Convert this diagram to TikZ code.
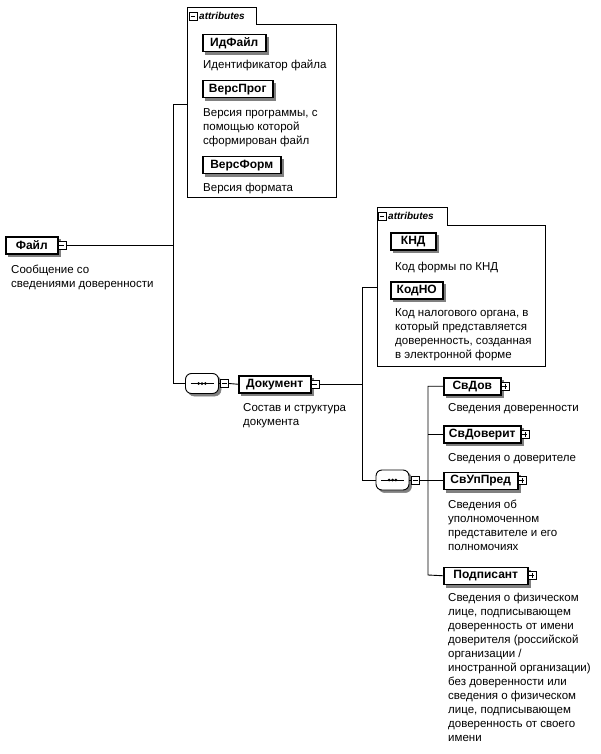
\documentclass[tikz,border=0pt]{standalone}
\usepackage{fontspec}
\setmainfont{Liberation Sans}
\begin{document}
\begin{tikzpicture}[x=1pt,y=-1pt,
  conn/.style={line width=0.9pt},
  shadowed/.style={preaction={fill=black!50, draw=black!50, line width=0.5pt,
    transform canvas={shift={(2.5pt,-2.5pt)}}}},
  elem/.style={shadowed, draw, line width=1.5pt, fill=white, anchor=north west,
    font=\fontsize{12}{14}\selectfont\bfseries, minimum height=17pt, inner sep=0pt},
  desc/.style={anchor=north west, inner sep=0pt, align=left,
    font=\fontsize{11.5}{14}\selectfont},
  iconbase/.style={draw, fill=white, minimum size=8pt, inner sep=0pt, line width=0.6pt},
  minusbox/.style={iconbase, path picture={\draw[black, line width=0.6pt]
    ([xshift=1.6pt]path picture bounding box.west) -- ([xshift=-1.6pt]path picture bounding box.east);}},
  plusbox/.style={iconbase, path picture={\draw[black, line width=0.6pt]
    ([xshift=1.6pt]path picture bounding box.west) -- ([xshift=-1.6pt]path picture bounding box.east)
    ([yshift=-1.6pt]path picture bounding box.north) -- ([yshift=1.6pt]path picture bounding box.south);}},
  seqbox/.style={shadowed, draw, line width=0.9pt, fill=white, rounded corners=6pt,
    minimum width=33pt, minimum height=20pt, inner sep=0pt,
    path picture={
      \draw[black, line width=0.8pt] ([xshift=5pt]path picture bounding box.west) -- ([xshift=-5pt]path picture bounding box.east);
      \fill[black] (path picture bounding box.center) circle (1.5pt)
        ([xshift=-3.4pt]path picture bounding box.center) circle (1.5pt)
        ([xshift=3.4pt]path picture bounding box.center) circle (1.5pt);}},
  attrframe/.style={draw, line width=0.9pt},
  tabtext/.style={anchor=west, inner sep=0pt, font=\fontsize{10}{11}\selectfont\bfseries\itshape}
]
\useasboundingbox (0,0) rectangle (600,754);

% ---------- root element
\node[elem, minimum width=52pt] (file) at (5,236) {Файл};
\node[minusbox, anchor=west] (fileI) at ([xshift=-1pt]file.east) {};
\node[desc] (fileD) at (11,265) {Сообщение со\\сведениями доверенности};

% ---------- attributes of Файл
\draw[attrframe] (187,197) -- (187,7) -- (256,7) -- (256,24) -- (336,24) -- (336,197) -- cycle;
\node[minusbox] (a1I) at (193,16) {};
\node[tabtext] (a1T) at (199,16) {attributes};
\coordinate (a1) at (187,104);

\node[elem, minimum width=63pt] (idf) at (202,34) {ИдФайл};
\node[desc] (idfD) at (203,60) {Идентификатор файла};
\node[elem, minimum width=70pt] (vprog) at (202,80) {ВерсПрог};
\node[desc] (vprogD) at (203,108) {Версия программы, с\\помощью которой\\сформирован файл};
\node[elem, minimum width=78pt] (vform) at (202,156) {ВерсФорм};
\node[desc] (vformD) at (203,183) {Версия формата};

% ---------- sequence of Файл
\node[seqbox] (seq1) at (202,383.5) {};
\node[minusbox, anchor=west] (seq1I) at ([xshift=1.5pt]seq1.east) {};
\node[elem, minimum width=72pt] (doc) at (238,375) {Документ};
\node[minusbox, anchor=west] (docI) at ([xshift=-1pt]doc.east) {};
\node[desc] (docD) at (243,403) {Состав и структура\\документа};

% ---------- attributes of Документ
\draw[attrframe] (377,366) -- (377,207) -- (447,207) -- (447,225) -- (545,225) -- (545,366) -- cycle;
\node[minusbox] (a2I) at (382,216) {};
\node[tabtext] (a2T) at (388,216) {attributes};
\coordinate (a2) at (377,287);

\node[elem, minimum width=45pt] (knd) at (390,232) {КНД};
\node[desc] (kndD) at (395,262) {Код формы по КНД};
\node[elem, minimum width=52pt] (kodno) at (390,281) {КодНО};
\node[desc] (kodnoD) at (395,308) {Код налогового органа, в\\который представляется\\доверенность, созданная\\в электронной форме};

% ---------- sequence of Документ
\node[seqbox] (seq2) at (392.5,480) {};
\node[minusbox, anchor=west] (seq2I) at ([xshift=1.5pt]seq2.east) {};

\node[elem, minimum width=57pt] (svdov) at (443,377) {СвДов};
\node[plusbox, anchor=west] (svdovI) at ([xshift=-1pt]svdov.east) {};
\node[desc] (svdovD) at (448,403) {Сведения доверенности};

\node[elem, minimum width=77pt] (svdoverit) at (443,425) {СвДоверит};
\node[plusbox, anchor=west] (svdoveritI) at ([xshift=-1pt]svdoverit.east) {};
\node[desc] (svdoveritD) at (448,453) {Сведения о доверителе};

\node[elem, minimum width=74pt] (svup) at (443,471.5) {СвУпПред};
\node[plusbox, anchor=west] (svupI) at ([xshift=-1pt]svup.east) {};
\node[desc] (svupD) at (448,500) {Сведения об\\уполномоченном\\представителе и его\\полномочиях};

\node[elem, minimum width=84pt] (podp) at (443,566.5) {Подписант};
\node[plusbox, anchor=west] (podpI) at ([xshift=-1pt]podp.east) {};
\node[desc] (podpD) at (448,593) {Сведения о физическом\\лице, подписывающем\\доверенность от имени\\доверителя (российской\\организации /\\иностранной организации)\\без доверенности или\\сведения о физическом\\лице, подписывающем\\доверенность от своего\\имени};

% ---------- connectors
\coordinate (j1a) at (173,104);
\coordinate (j1b) at (173,383.5);
\draw[conn] (fileI.east) -- (fileI.east -| j1a);
\draw[conn] (a1) -- (j1a) -- (j1b) -- (seq1.west);
\draw[conn] (seq1.east) -- (seq1I.west);
\draw[conn] (seq1I.east) -- (doc.west);

\coordinate (j2a) at (362,287);
\coordinate (j2b) at (362,480);
\draw[conn] (docI.east) -- (docI.east -| j2a);
\draw[conn] (a2) -- (j2a) -- (j2b) -- (seq2.west);
\draw[conn] (seq2.east) -- (seq2I.west);

\coordinate (j3a) at (428,385.5);
\coordinate (j3b) at (428,575);
\draw[conn] (seq2I.east) -- (seq2I.east -| j3a);
\draw[conn] (svdov.west) -- (svdov.west -| j3a) -- (j3b) -- (podp.west);
\draw[conn] (svdoverit.west) -- (svdoverit.west -| j3a);
\draw[conn] (svup.west) -- (svup.west -| j3a);
\end{tikzpicture}
\end{document}
